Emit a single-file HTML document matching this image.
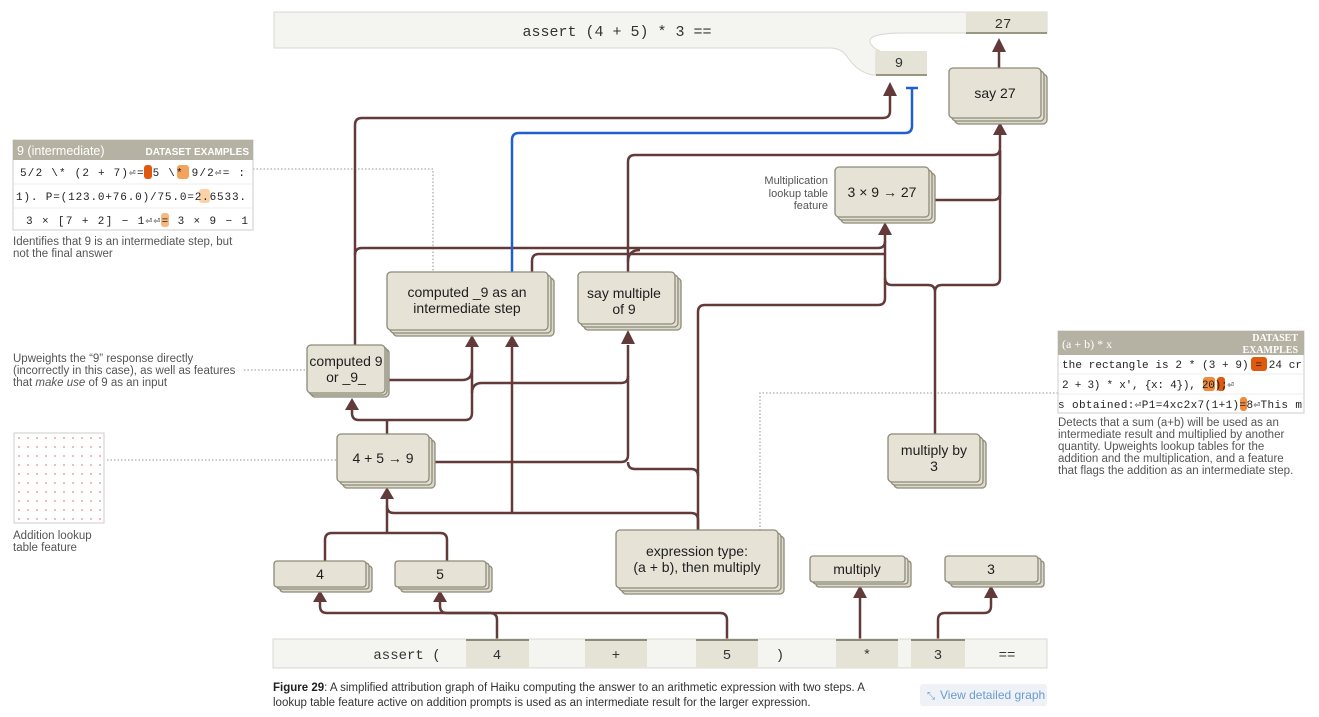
<!DOCTYPE html>
<html><head><meta charset="utf-8"><style>
body{margin:0;background:#fff;width:1319px;height:717px;overflow:hidden}
svg{display:block}
.n{font-family:"Liberation Sans",sans-serif;font-size:14px;fill:#1e1e1e;text-anchor:middle}
.m{font-family:"Liberation Mono",monospace;fill:#333;text-anchor:middle}
.a{font-family:"Liberation Sans Narrow","Liberation Sans",sans-serif;font-size:11px;fill:#555}
.b{font-size:11.5px}
.e{fill:none;stroke:#633a3a;stroke-width:2.5;stroke-linejoin:round}
.d{fill:none;stroke:#aaa;stroke-width:1.3;stroke-dasharray:1.5 2}
.mm{font-family:"Liberation Mono",monospace;font-size:11px;fill:#222}
</style></head><body>
<svg width="1319" height="717" viewBox="0 0 1319 717">
<defs>
<pattern id="dots" width="9" height="9" patternUnits="userSpaceOnUse" x="17" y="436"><circle cx="2" cy="2" r="0.9" fill="#e58a8a"/></pattern>
</defs>

<path d="M274,12 H1047 V33 H905 Q868,33 870,42 Q872,48 880,51 L876,51 V75 H872 Q858,72 848,58 Q842,48 830,48 H274 Z" fill="#f4f4f0" stroke="#d8d8d2" stroke-width="1"/>
<text class="m" x="617" y="36" font-size="15">assert (4 + 5) * 3 ==</text>
<rect x="966" y="12" width="81" height="21" fill="#e5e2d6"/><line x1="966" y1="33" x2="1047" y2="33" stroke="#9a9684" stroke-width="2"/>
<text class="m" x="1003" y="28" font-size="14">27</text>
<rect x="876" y="51" width="51" height="24" fill="#e5e2d6"/><line x1="876" y1="75" x2="927" y2="75" stroke="#9a9684" stroke-width="2"/>
<text class="m" x="899" y="67" font-size="14">9</text>

<path class="d" d="M253,169 H433 V272"/>
<path class="d" d="M244,370 H307"/>
<path class="d" d="M107,460 H337"/>
<path class="d" d="M1058,393 H760 V530"/>

<g class="e">
<path d="M497,639 V620 Q497,613 490,613 H327 Q320,613 320,606 V600"/>
<path d="M727,639 V620 Q727,613 720,613 H447 Q440,613 440,606 V600"/>
<path d="M860,639 V598"/>
<path d="M938,639 V620 Q938,613 945,613 H984 Q991,613 991,606 V598"/>
<path d="M325,561 V540 Q325,533 332,533 H440 Q447,533 447,540 V561"/>
<path d="M387,533 V498"/>
<path d="M698,530 V520 Q698,513 691,513 H394 Q387,513 387,506"/>
<path d="M512,513 V345"/>
<path d="M698,530 V312 Q698,305 705,305 H878 Q885,305 885,298 V234"/>
<path d="M429,462 H621 Q628,462 628,455 V345"/>
<path d="M628,462 Q628,469 635,469 H691 Q698,469 698,476"/>
<path d="M387,434 V420 M387,420 H359 Q352,420 352,413 V408 M387,420 H465 Q472,420 472,413 V345"/>
<path d="M385,380 H462 Q472,380 472,370"/>
<path d="M472,393 Q472,383 482,383 H621 Q628,383 628,376"/>
<path d="M355,345 V125 Q355,118 362,118 H883 Q890,118 890,111 V96"/>
<path d="M355,255 Q355,248 362,248 H878 Q885,248 885,241"/>
<path d="M532,272 V261 Q532,254 539,254 H885"/>
<path d="M628,272 V162 Q628,155 635,155 H993 Q1000,155 1000,148 V134"/>
<path d="M628,262 Q628,250 640,250"/>
<path d="M929,200 H993 Q1000,200 1000,193 V150"/>
<path d="M935,434 V292 Q935,285 928,285 H892 Q885,285 885,278 M935,292 Q935,285 942,285 H993 Q1000,285 1000,278 V150"/>
<path d="M999,68 V52"/>
</g>
<g fill="#633a3a">
<path d="M320,590 l-7,12 h14z"/>
<path d="M440,590 l-7,12 h14z"/>
<path d="M860,585 l-7,13 h14z"/>
<path d="M991,585 l-7,13 h14z"/>
<path d="M387,487 l-7,12 h14z"/>
<path d="M352,398 l-7,12 h14z"/>
<path d="M472,335 l-7,12 h14z"/>
<path d="M512,335 l-7,12 h14z"/>
<path d="M628,330 l-7,14 h14z"/>
<path d="M885,222 l-7,13 h14z"/>
<path d="M1000,122 l-7,13 h14z"/>
<path d="M890,82 l-7,14 h14z"/>
<path d="M999,38 l-7,14 h14z"/>
</g>
<path d="M512,272 V140 Q512,133 519,133 H905 Q912,133 912,126 V88 M906,88 H918" fill="none" stroke="#1f5fd0" stroke-width="2.5"/>

<g stroke="#8d8a78" stroke-width="1.3">
<rect x="955" y="74" width="92" height="50" rx="4" fill="#dcd8cb"/><rect x="952" y="71" width="92" height="50" rx="4" fill="#e2ded1"/><rect x="949" y="68" width="92" height="50" rx="4" fill="#e6e2d6"/>
<rect x="841" y="173" width="94" height="50" rx="4" fill="#dcd8cb"/><rect x="838" y="170" width="94" height="50" rx="4" fill="#e2ded1"/><rect x="835" y="167" width="94" height="50" rx="4" fill="#e6e2d6"/>
<rect x="393" y="278" width="161" height="58" rx="4" fill="#dcd8cb"/><rect x="390" y="275" width="161" height="58" rx="4" fill="#e2ded1"/><rect x="387" y="272" width="161" height="58" rx="4" fill="#e6e2d6"/>
<rect x="584" y="278" width="97" height="52" rx="4" fill="#dcd8cb"/><rect x="581" y="275" width="97" height="52" rx="4" fill="#e2ded1"/><rect x="578" y="272" width="97" height="52" rx="4" fill="#e6e2d6"/>
<rect x="311" y="349" width="78" height="48" rx="4" fill="#dcd8cb"/><rect x="309" y="347" width="78" height="48" rx="4" fill="#e2ded1"/><rect x="307" y="345" width="78" height="48" rx="4" fill="#e6e2d6"/>
<rect x="343" y="440" width="92" height="48" rx="4" fill="#dcd8cb"/><rect x="340" y="437" width="92" height="48" rx="4" fill="#e2ded1"/><rect x="337" y="434" width="92" height="48" rx="4" fill="#e6e2d6"/>
<rect x="894" y="440" width="92" height="48" rx="4" fill="#dcd8cb"/><rect x="891" y="437" width="92" height="48" rx="4" fill="#e2ded1"/><rect x="888" y="434" width="92" height="48" rx="4" fill="#e6e2d6"/>
<rect x="280" y="566" width="92" height="26" rx="3" fill="#dcd8cb"/><rect x="277" y="563" width="92" height="26" rx="3" fill="#e2ded1"/><rect x="274" y="561" width="92" height="26" rx="3" fill="#e6e2d6"/>
<rect x="401" y="566" width="91" height="26" rx="3" fill="#dcd8cb"/><rect x="398" y="563" width="91" height="26" rx="3" fill="#e2ded1"/><rect x="395" y="561" width="91" height="26" rx="3" fill="#e6e2d6"/>
<rect x="622" y="536" width="162" height="58" rx="4" fill="#dcd8cb"/><rect x="619" y="533" width="162" height="58" rx="4" fill="#e2ded1"/><rect x="616" y="530" width="162" height="58" rx="4" fill="#e6e2d6"/>
<rect x="816" y="561" width="95" height="26" rx="3" fill="#dcd8cb"/><rect x="813" y="558" width="95" height="26" rx="3" fill="#e2ded1"/><rect x="810" y="556" width="95" height="26" rx="3" fill="#e6e2d6"/>
<rect x="951" y="561" width="93" height="26" rx="3" fill="#dcd8cb"/><rect x="948" y="558" width="93" height="26" rx="3" fill="#e2ded1"/><rect x="945" y="556" width="93" height="26" rx="3" fill="#e6e2d6"/>
</g>
<text class="n" x="995" y="98">say 27</text>
<text class="n" x="882" y="197">3 × 9 → 27</text>
<text class="n" x="467" y="297">computed _9 as an</text><text class="n" x="467" y="313">intermediate step</text>
<text class="n" x="624" y="298">say multiple</text><text class="n" x="624" y="314">of 9</text>
<text class="n" x="346" y="366">computed 9</text><text class="n" x="346" y="382">or _9_</text>
<text class="n" x="383" y="463">4 + 5 → 9</text>
<text class="n" x="934" y="455">multiply by</text><text class="n" x="934" y="471">3</text>
<text class="n" x="320" y="579">4</text>
<text class="n" x="440" y="579">5</text>
<text class="n" x="697" y="556">expression type:</text><text class="n" x="697" y="572">(a + b), then multiply</text>
<text class="n" x="857" y="574">multiply</text>
<text class="n" x="991" y="574">3</text>
<text class="a" x="828" y="184" text-anchor="end">Multiplication</text>
<text class="a" x="828" y="197" text-anchor="end">lookup table</text>
<text class="a" x="828" y="209" text-anchor="end">feature</text>

<rect x="273" y="639" width="774" height="29" fill="#f4f4f0" stroke="#d8d8d2"/>
<g fill="#e5e2d6"><rect x="466" y="639" width="63" height="29"/><rect x="585" y="639" width="62" height="29"/><rect x="696" y="639" width="62" height="29"/><rect x="836" y="639" width="62" height="29"/><rect x="911" y="639" width="54" height="29"/></g>
<g stroke="#8d8a78" stroke-width="2"><line x1="466" y1="640" x2="529" y2="640"/><line x1="585" y1="640" x2="647" y2="640"/><line x1="696" y1="640" x2="758" y2="640"/><line x1="836" y1="640" x2="898" y2="640"/><line x1="911" y1="640" x2="965" y2="640"/></g>
<g class="m" font-size="14"><text x="407" y="659">assert (</text><text x="497" y="659">4</text><text x="616" y="659">+</text><text x="727" y="659">5</text><text x="780" y="659">)</text><text x="867" y="659">*</text><text x="938" y="659">3</text><text x="1007" y="659">==</text></g>

<rect x="13" y="140" width="240" height="90" fill="#fff" stroke="#ccc"/>
<rect x="13" y="140" width="240" height="20" fill="#b5b1a3"/>
<text x="17" y="155" font-family="Liberation Sans,sans-serif" font-size="12.5" fill="#fff">9 (intermediate)</text>
<text x="249" y="155" font-family="Liberation Sans,sans-serif" font-size="10" font-weight="bold" fill="#fff" text-anchor="end">DATASET EXAMPLES</text>
<line x1="14" y1="184" x2="252" y2="184" stroke="#eee"/><line x1="14" y1="208" x2="252" y2="208" stroke="#eee"/>
<rect x="144" y="165" width="8" height="14" rx="3" fill="#e0590f"/><rect x="177" y="165" width="12" height="14" rx="3" fill="#f4a35e"/>
<rect x="199" y="189" width="11" height="14" rx="3" fill="#fbd1a8"/><rect x="161" y="213" width="8" height="14" rx="3" fill="#f8b77e"/>
<text class="mm" x="20" y="176" textLength="225" lengthAdjust="spacing">5/2 \* (2 + 7)⏎= 5 \* 9/2⏎= :</text>
<text class="mm" x="16" y="200" textLength="230" lengthAdjust="spacing">1). P=(123.0+76.0)/75.0=2.6533.</text>
<text class="mm" x="26" y="224" textLength="222" lengthAdjust="spacing">3 × [7 + 2] − 1⏎⏎= 3 × 9 − 1</text>
<text class="a b" x="13" y="245">Identifies that 9 is an intermediate step, but</text>
<text class="a b" x="13" y="257">not the final answer</text>

<text class="a b" x="13" y="362">Upweights the “9” response directly</text>
<text class="a b" x="13" y="374">(incorrectly in this case), as well as features</text>
<text class="a b" x="13" y="386">that <tspan font-style="italic">make use</tspan> of 9 as an input</text>

<rect x="14" y="433" width="90" height="90" fill="url(#dots)" stroke="#ccc"/>
<text class="a b" x="13" y="539">Addition lookup</text>
<text class="a b" x="13" y="551">table feature</text>

<rect x="1058" y="331" width="246" height="82" fill="#fff" stroke="#ccc"/>
<rect x="1058" y="331" width="246" height="24" fill="#b5b1a3"/>
<text x="1062" y="348" font-family="Liberation Serif,serif" font-size="12" fill="#fff">(a + b) * x</text>
<text x="1298" y="341" font-family="Liberation Serif,serif" font-size="10" font-weight="bold" fill="#fff" text-anchor="end">DATASET</text>
<text x="1298" y="353" font-family="Liberation Serif,serif" font-size="10" font-weight="bold" fill="#fff" text-anchor="end">EXAMPLES</text>
<line x1="1059" y1="374" x2="1303" y2="374" stroke="#eee"/><line x1="1059" y1="394" x2="1303" y2="394" stroke="#eee"/>
<rect x="1251" y="357" width="16" height="14" rx="3" fill="#e0590f"/><rect x="1203" y="377" width="12" height="14" rx="3" fill="#f08a3a"/><rect x="1217" y="377" width="8" height="14" rx="3" fill="#e0590f"/><rect x="1240" y="397" width="7" height="14" rx="3" fill="#f08a3a"/>
<text class="mm" x="1062" y="368" textLength="240" lengthAdjust="spacing">the rectangle is 2 * (3 + 9) = 24 cr</text>
<text class="mm" x="1062" y="388" textLength="172" lengthAdjust="spacing">2 + 3) * x', {x: 4}), 20);⏎</text>
<text class="mm" x="1058" y="408" textLength="244" lengthAdjust="spacing">s obtained:⏎P1=4xc2x7(1+1)=8⏎This m</text>
<text class="a b" x="1058" y="426">Detects that a sum (a+b) will be used as an</text>
<text class="a b" x="1058" y="438">intermediate result and multiplied by another</text>
<text class="a b" x="1058" y="450">quantity. Upweights lookup tables for the</text>
<text class="a b" x="1058" y="462">addition and the multiplication, and a feature</text>
<text class="a b" x="1058" y="474">that flags the addition as an intermediate step.</text>

<text class="a b" x="273" y="691" style="fill:#333"><tspan font-weight="bold" fill="#222">Figure 29</tspan>: A simplified attribution graph of Haiku computing the answer to an arithmetic expression with two steps. A</text>
<text class="a b" x="273" y="706" style="fill:#333">lookup table feature active on addition prompts is used as an intermediate result for the larger expression.</text>
<rect x="920" y="684" width="127" height="22" rx="3" fill="#eef2f6"/>
<text x="940" y="699" font-family="Liberation Sans Narrow,Liberation Sans,sans-serif" font-size="12" fill="#6b9bd1">View detailed graph</text>
<text x="927" y="699" font-family="DejaVu Sans,sans-serif" font-size="10" fill="#6b9bd1">⤡</text>
</svg>
</body></html>
